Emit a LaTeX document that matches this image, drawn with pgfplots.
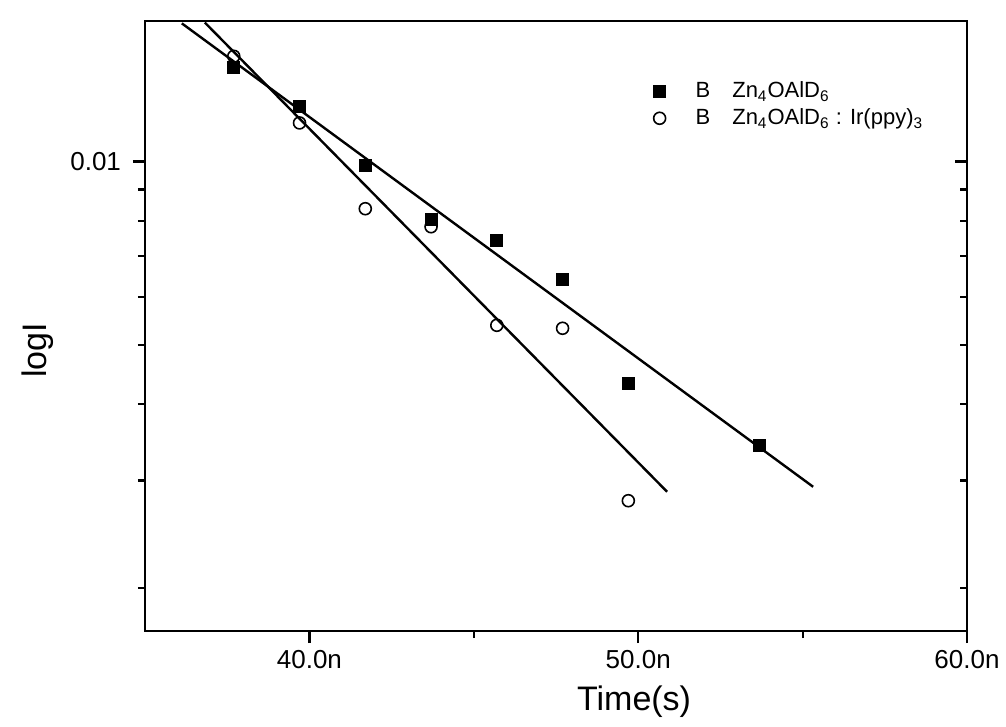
\documentclass[border=0pt]{standalone}
\usepackage{pgfplots}
\pgfplotsset{compat=1.18}
\usepackage{pgfplotstable}
\usepackage{fontspec}
\setmainfont{Liberation Sans}

% filled squares: B Zn4OAlD6
\pgfplotstableread{
t I
37.7 0.01428
39.7 0.01233
41.7 0.00984
43.7 0.00804
45.7 0.00743
47.7 0.00641
49.7 0.00433
53.7 0.00343
}\squares

% open circles: B Zn4OAlD6 : Ir(ppy)3
\pgfplotstableread{
t I
37.7 0.01488
39.7 0.01157
41.7 0.00837
43.7 0.00782
45.7 0.00539
47.7 0.00533
49.7 0.00278
}\circles

\begin{document}
\begin{tikzpicture}
% right-hand ticks point inward
\begin{axis}[
  scale only axis, width=411pt, height=305pt,
  ymode=log, xmin=35, xmax=60, ymin=0.0017, ymax=0.017,
  major tick length=6pt, minor tick length=3.5pt,
  tick style={line width=1.1pt, black},
  axis line style={draw=none},
  xtick=\empty,
  ytick pos=right, tick align=inside,
  ytick={0.01}, yticklabels={},
  minor ytick={0.002,0.003,0.004,0.005,0.006,0.007,0.008,0.009},
]
\addplot[draw=none] coordinates {(40,0.01)};
\end{axis}
\begin{axis}[
  scale only axis, width=411pt, height=305pt,
  ymode=log, xmin=35, xmax=60, ymin=0.0017, ymax=0.017,
  major tick length=6pt, minor tick length=3.5pt,
  tick style={line width=1.1pt, black},
  axis line style={line width=1.4pt},
  xtick pos=bottom, ytick pos=left, tick align=outside,
  xtick={40,50,60}, xticklabels={40.0n,50.0n,60.0n},
  minor xtick={45,55},
  ytick={0.01}, yticklabels={0.01},
  minor ytick={0.002,0.003,0.004,0.005,0.006,0.007,0.008,0.009},
  ticklabel style={font=\fontsize{13}{15}\selectfont},
  yticklabel style={xshift=-2.5pt},
  xlabel={Time(s)}, ylabel={logI},
  label style={font=\fontsize{17}{20}\selectfont},
  xlabel style={at={(axis description cs:0.595,-0.1164)}, anchor=center},
  ylabel style={at={(axis description cs:-0.13,0.46)}, anchor=center},
  legend style={draw=none, fill=none, font=\fontsize{11}{12}\selectfont,
    at={(axis description cs:0.611,0.914)}, anchor=north west,
    row sep=0pt, cells={anchor=west}},
]
\addplot[only marks, mark=square*, mark size=3pt, black] table[x=t, y=I] {\squares};
\addlegendentry{\hspace{13pt}B\quad Zn\textsubscript{4}OAlD\textsubscript{6}}
\addplot[only marks, mark=o, mark size=3pt, black, line width=0.8pt] table[x=t, y=I] {\circles};
\addlegendentry{\hspace{13pt}B\quad Zn\textsubscript{4}OAlD\textsubscript{6} : Ir(ppy)\textsubscript{3}}
% fitted lines
\addplot[black, line width=1.2pt, forget plot] coordinates {(36.12,0.01685) (55.32,0.00293)};
\addplot[black, line width=1.2pt, forget plot] coordinates {(36.82,0.0169) (50.88,0.002875)};
\coordinate (bl) at (rel axis cs:0,0);
\coordinate (tr) at (rel axis cs:1,1);
\end{axis}
\pgfresetboundingbox
\path[use as bounding box] ([shift={(-72.5pt,-48pt)}]bl) rectangle ([shift={(19.5pt,10.5pt)}]tr);
\end{tikzpicture}
\end{document}
